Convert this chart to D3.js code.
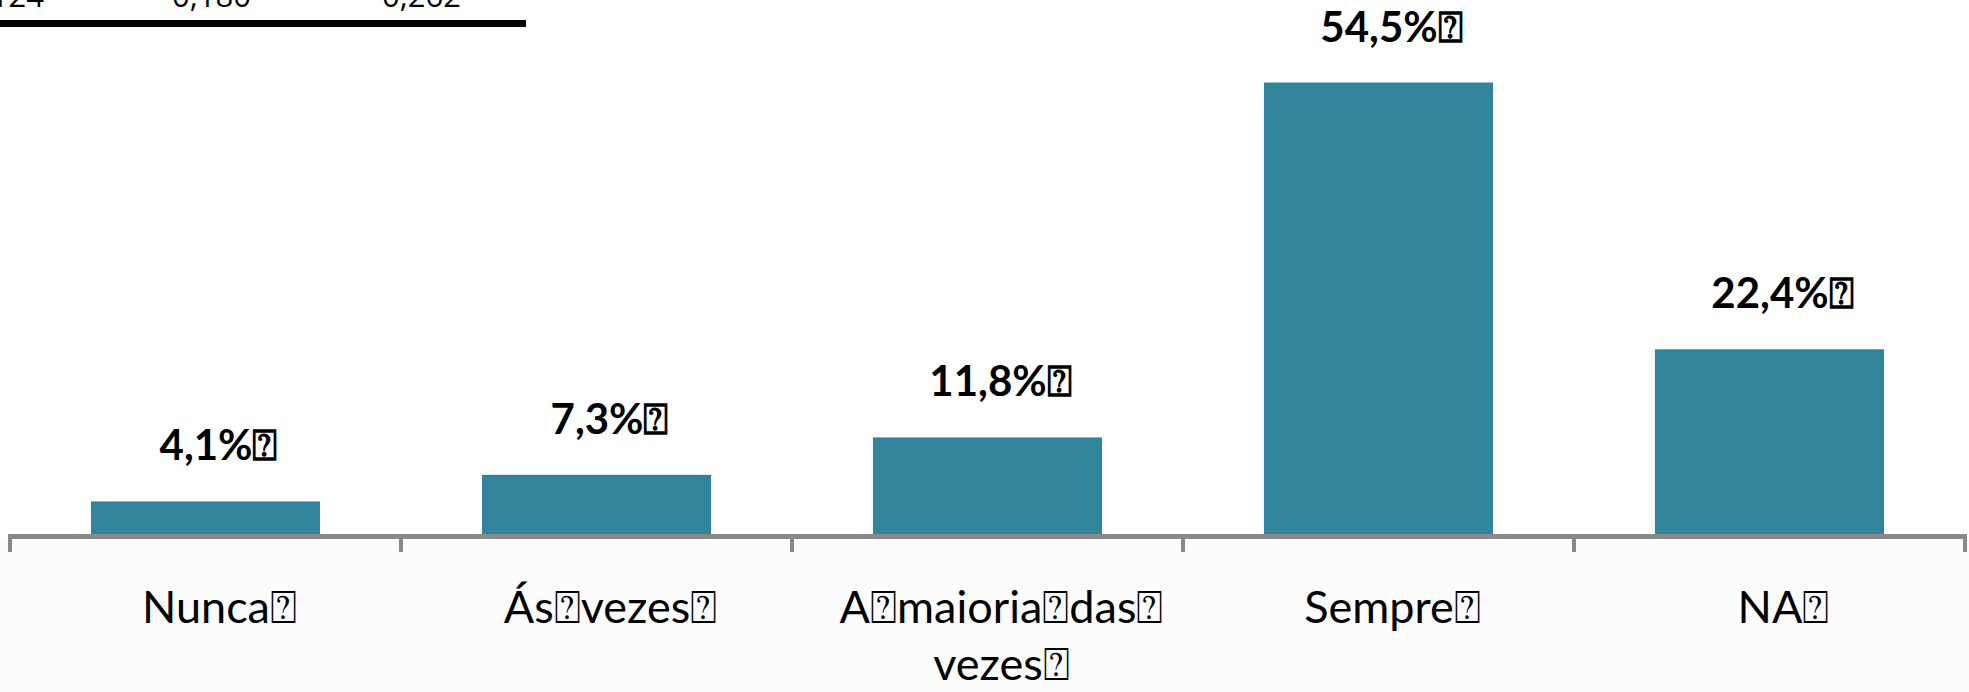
<!DOCTYPE html>
<html>
<head>
<meta charset="utf-8">
<script src="https://cdn.jsdelivr.net/npm/d3@7"></script>
<style>
  html, body { margin: 0; padding: 0; background: #ffffff; }
  svg { display: block; }
</style>
</head>
<body>
<script>
// Response frequency per answer option (percent of respondents)
const categories = ["Nunca⍰", "Ás⍰vezes⍰", ["A⍰maioria⍰das⍰", "vezes⍰"], "Sempre⍰", "NA⍰"];
const categoryKeys = ["Nunca", "Ás vezes", "A maioria das vezes", "Sempre", "NA"];
const values = [4.1, 7.3, 11.8, 54.5, 22.4];
const valueLabels = ["4,1%⍰", "7,3%⍰", "11,8%⍰", "54,5%⍰", "22,4%⍰"];

// Bottom row of the table above the chart
const tableRow = ["0,124", "0,180", "0,262"];

const W = 1969, H = 692;
const svg = d3.select("body").append("svg").attr("width", W).attr("height", H);

// faint gray wash below the axis
svg.append("rect").attr("x", 0).attr("y", 540).attr("width", W).attr("height", H - 540)
  .attr("fill", "#fcfcfd");

const x = d3.scaleBand().domain(categoryKeys).range([10, 1965])
  .paddingInner(0.414).paddingOuter(0.207);
const y = d3.scaleLinear().domain([0, 54.5]).range([535.5, 82.5]);

const color = "#32849b";
const labelFont = "Lato, 'Open Sans', sans-serif";

// table fragment at the top
const tbl = svg.append("g");
const colEnds = [44, 251, 461];
tbl.selectAll("text").data(tableRow).enter().append("text")
  .attr("x", (d, i) => colEnds[i]).attr("y", 7)
  .attr("text-anchor", "end")
  .attr("font-family", "'Open Sans', 'DejaVu Sans', sans-serif")
  .attr("font-size", 31).attr("fill", "#000")
  .text(d => d);
tbl.append("rect").attr("x", 0).attr("y", 20).attr("width", 526).attr("height", 7).attr("fill", "#000");

// bars
svg.selectAll("rect.bar").data(values).enter().append("rect")
  .attr("class", "bar")
  .attr("x", (d, i) => x(categoryKeys[i]))
  .attr("y", d => y(d))
  .attr("width", x.bandwidth())
  .attr("height", d => y(0) - y(d))
  .attr("fill", color);

// value labels
svg.selectAll("text.val").data(values).enter().append("text")
  .attr("class", "val")
  .attr("x", (d, i) => x(categoryKeys[i]) + x.bandwidth() / 2 + 13)
  .attr("y", d => y(d) - 41)
  .attr("text-anchor", "middle")
  .attr("font-family", labelFont)
  .attr("font-weight", "bold")
  .attr("font-size", 42)
  .attr("fill", "#000")
  .text((d, i) => valueLabels[i]);

// axis line with ticks at band boundaries
const gap = (x.step() - x.bandwidth()) / 2;
const bounds = categoryKeys.map(k => x(k) - gap).concat([x(categoryKeys[categoryKeys.length - 1]) + x.bandwidth() + gap]);
const axisY = 536.5;
svg.append("line").attr("x1", bounds[0] - 2).attr("x2", bounds[bounds.length - 1] + 2)
  .attr("y1", axisY).attr("y2", axisY)
  .attr("stroke", "#898989").attr("stroke-width", 5);
svg.selectAll("line.tick").data(bounds).enter().append("line")
  .attr("class", "tick")
  .attr("x1", d => d).attr("x2", d => d)
  .attr("y1", axisY).attr("y2", 552)
  .attr("stroke", "#898989").attr("stroke-width", 4);

// category labels
const cat = svg.selectAll("text.cat").data(categories).enter().append("text")
  .attr("class", "cat")
  .attr("text-anchor", "middle")
  .attr("font-family", labelFont)
  .attr("font-size", 45)
  .attr("fill", "#000");
cat.each(function (d, i) {
  const cx = x(categoryKeys[i]) + x.bandwidth() / 2 + 14;
  const lines = Array.isArray(d) ? d : [d];
  const t = d3.select(this);
  lines.forEach((ln, j) => {
    t.append("tspan").attr("x", cx).attr("y", 623 + j * 57).text(ln);
  });
});
</script>
</body>
</html>
